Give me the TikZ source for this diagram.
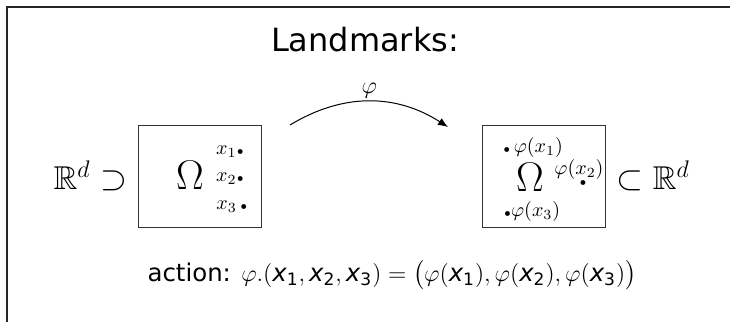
\documentclass[tikz,border=0pt]{standalone}
\usepackage{amsmath}
\usepackage{amssymb}
\usepackage{fontspec}
\setsansfont{DejaVu Sans}
\usetikzlibrary{positioning,arrows.meta}

% sans italic landmark variable
\newcommand{\lmx}[1]{\text{\sffamily\itshape x}_{\text{\sffamily #1}}}

\begin{document}
\begin{tikzpicture}[
    x=0.5pt, y=-0.5pt,
    >={Latex[length=5pt,width=4pt]},
    node distance=3pt,
    dombox/.style={draw=black!80, line width=0.5pt, minimum width=61.5pt, minimum height=51pt, inner sep=0pt},
    bigsym/.style={font=\fontsize{20}{24}\selectfont, inner sep=0pt},
    spacelbl/.style={font=\fontsize{16.5}{19}\selectfont, inner sep=1pt},
    lm/.style={font=\fontsize{10}{12}\selectfont, inner sep=0pt},
    titletext/.style={font=\fontsize{16}{19}\selectfont\sffamily},
    arrow/.style={->, line width=0.5pt},
]
\useasboundingbox (0,0) rectangle (730,322);
\draw[line width=1pt, black!85] (730,6.5) -- (6.5,6.5) -- (6.5,322);

\node[titletext] (ttl) at (365,40) {Landmarks:};

% source domain
\node[dombox] (lbox) at (199.5,176) {};
\node[bigsym] (lomega) at (190,175) {$\Omega$};
\node[spacelbl, left=4pt of lbox] (lspace) {$\mathbb{R}^d \supset$};
\node[lm] (x1) at (230,152) {$x_1{\scriptscriptstyle\bullet}$};
\node[lm] (x2) at (230,179) {$x_2{\scriptscriptstyle\bullet}$};
\node[lm] (x3) at (232,207) {$x_3\,{\scriptscriptstyle\bullet}$};

% target domain
\node[dombox] (rbox) at (544,176) {};
\node[bigsym] (romega) at (530,177) {$\Omega$};
\node[spacelbl, right=4pt of rbox] (rspace) {$\subset \mathbb{R}^d$};
\node[lm] (y1) at (533,147) {${\scriptscriptstyle\bullet}\,\varphi(x_1)$};
\node[lm] (y2) at (579,169) {$\varphi(x_2)$};
\node[lm] (y2dot) at (583,183) {${\scriptscriptstyle\bullet}$};
\node[lm] (y3) at (532,211) {${\scriptscriptstyle\bullet}\varphi(x_3)$};

% the map
\coordinate (arcL) at (290,125);
\coordinate (arcR) at (448,127);
\draw[arrow] (arcL) to[bend left=32] node[above=-2pt, font=\fontsize{12}{14}\selectfont] (phi) {$\varphi$} (arcR);

\node[font=\fontsize{12.2}{14}\selectfont\sffamily] (action) at (392,275)
  {action: $\varphi.(\lmx1,\lmx2,\lmx3)=\bigl(\varphi(\lmx1),\varphi(\lmx2),\varphi(\lmx3)\bigr)$};
\end{tikzpicture}
\end{document}
